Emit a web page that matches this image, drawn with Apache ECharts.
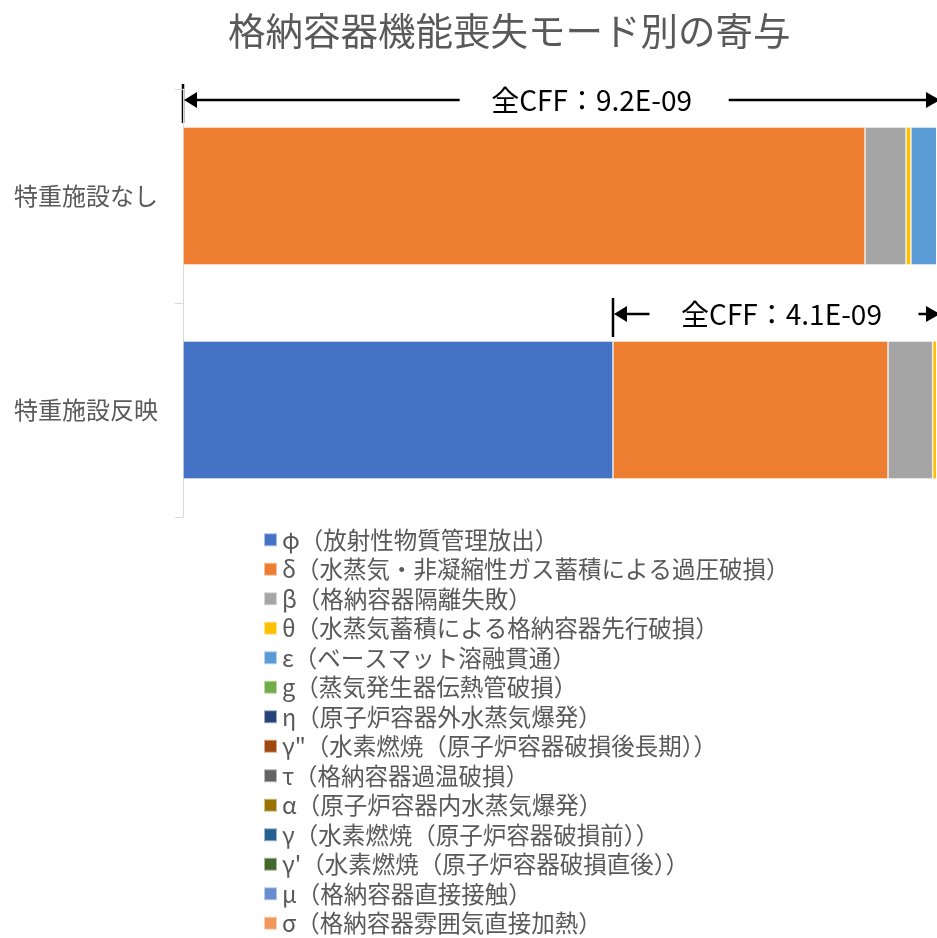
<!DOCTYPE html>
<html>
<head>
<meta charset="utf-8">
<title>格納容器機能喪失モード別の寄与</title>
<script src="https://cdn.jsdelivr.net/npm/echarts@6/dist/echarts.min.js"></script>
<style>
  html, body { margin: 0; padding: 0; background: #fff; }
  #chart { width: 937px; height: 938px; }
</style>
</head>
<body>
<div id="chart"></div>
<script>
const categories = ['特重施設なし', '特重施設反映'];

const modeNames = [
    'φ（放射性物質管理放出）',
    'δ（水蒸気・非凝縮性ガス蓄積による過圧破損）',
    'β（格納容器隔離失敗）',
    'θ（水蒸気蓄積による格納容器先行破損）',
    'ε（ベースマット溶融貫通）',
    'g（蒸気発生器伝熱管破損）',
    'η（原子炉容器外水蒸気爆発）',
    'γ"（水素燃焼（原子炉容器破損後長期））',
    'τ（格納容器過温破損）',
    'α（原子炉容器内水蒸気爆発）',
    'γ（水素燃焼（原子炉容器破損前））',
    "γ'（水素燃焼（原子炉容器破損直後））",
    'μ（格納容器直接接触）',
    'σ（格納容器雰囲気直接加熱）'
];

const modeColors = [
    '#4472C4', '#ED7D31', '#A5A5A5', '#FFC000', '#5B9BD5', '#70AD47', '#264478',
    '#9E480E', '#636363', '#997300', '#255E91', '#43682B', '#698ED0', '#F1975A'
];

// 寄与割合（%）
const shareWithout = [0, 90.45, 5.44, 0.66, 3.45, 0, 0, 0, 0, 0, 0, 0, 0, 0];
const shareWith = [57.03, 36.47, 5.93, 0.57, 0, 0, 0, 0, 0, 0, 0, 0, 0, 0];

const cffLabels = ['全CFF：9.2E-09', '全CFF：4.1E-09'];
const cffFrom = [0, shareWith[0]];
const cffTo = [100, 100];

const font = "'Noto Sans CJK JP', 'Noto Sans', sans-serif";
const chart = echarts.init(document.getElementById('chart'));

const series = modeNames.map((name, i) => ({
    name: name,
    type: 'bar',
    stack: 'total',
    barCategoryGap: '35.5%',
    itemStyle: {
        color: modeColors[i],
        borderColor: 'rgba(255,255,255,0.55)',
        borderWidth: 0.8
    },
    data: [shareWithout[i], shareWith[i]]
}));

chart.setOption({
    animation: false,
    title: {
        text: '格納容器機能喪失モード別の寄与',
        left: 223,
        top: 7,
        textStyle: { fontFamily: font, fontSize: 37.5, fontWeight: 'normal', color: '#595959' }
    },
    grid: { left: 183, right: 0, top: 89, bottom: 421, containLabel: false },
    xAxis: {
        type: 'value',
        min: 0,
        max: 100,
        show: false,
        splitLine: { show: false }
    },
    yAxis: {
        type: 'category',
        inverse: true,
        data: categories,
        axisLine: { lineStyle: { color: '#D9D9D9', width: 1 } },
        axisTick: { show: true, length: 8, lineStyle: { color: '#D9D9D9' } },
        axisLabel: { margin: 25, fontFamily: font, fontSize: 24, color: '#595959' }
    },
    legend: {
        orient: 'vertical',
        left: 258,
        top: 523,
        height: 415,
        icon: 'rect',
        itemWidth: 13,
        itemHeight: 13,
        itemGap: 6.0,
        selectedMode: false,
        data: modeNames,
        textStyle: { fontFamily: font, fontSize: 23.5, lineHeight: 23, color: '#595959' }
    },
    series: series
});

// 全CFF の矢印注記
const textFrac = [0.542, 0.52];
const halfText = 112;
const graphics = [];
categories.forEach((cat, i) => {
    const y = chart.convertToPixel({ yAxisIndex: 0 }, cat) - 96;
    const xs = chart.convertToPixel({ xAxisIndex: 0 }, cffFrom[i]);
    const xe = chart.convertToPixel({ xAxisIndex: 0 }, cffTo[i]);
    const tc = xs + textFrac[i] * (xe - xs);
    const stroke = { stroke: '#000', lineWidth: 2.5 };
    graphics.push(
        { type: 'line', shape: { x1: xs, y1: y - 16, x2: xs, y2: y + 23 }, style: stroke },
        { type: 'polygon', shape: { points: [[xs + 1, y], [xs + 14, y - 8], [xs + 14, y + 8]] }, style: { fill: '#000' } },
        { type: 'line', shape: { x1: xs + 10, y1: y, x2: tc - halfText - 20, y2: y }, style: stroke },
        { type: 'text', x: tc, y: y, style: {
            text: cffLabels[i], fontFamily: font, fontSize: 28, fill: '#000',
            align: 'center', verticalAlign: 'middle'
        } },
        { type: 'polygon', shape: { points: [[xe + 3, y], [xe - 11, y - 8], [xe - 11, y + 8]] }, style: { fill: '#000' } }
    );
    if (xe - 10 > tc + halfText + 25) {
        graphics.push({ type: 'line', shape: { x1: tc + halfText + 25, y1: y, x2: xe - 10, y2: y }, style: stroke });
    }
});
chart.setOption({ graphic: graphics });

window.addEventListener('resize', chart.resize);
</script>
</body>
</html>
